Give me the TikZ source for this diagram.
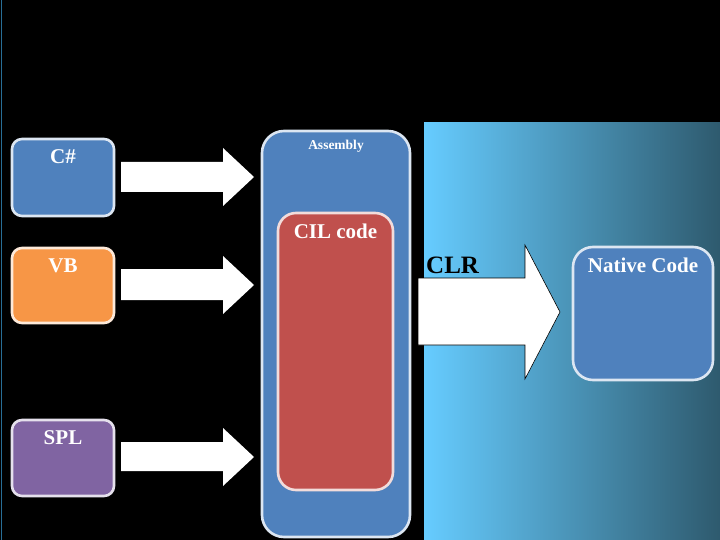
\documentclass[tikz,border=0pt]{standalone}
\usepackage{fontspec}
\setmainfont{Liberation Serif}
\begin{document}
\begin{tikzpicture}[x=1pt,y=-1pt,
  box/.style={draw=#1, line width=2.6pt, rounded corners=10pt, inner sep=0pt},
  lbl/.style={text=white, font=\bfseries\fontsize{21}{21}\selectfont, anchor=base, inner sep=0pt},
  blockarrow/.style={fill=white}]
\definecolor{bluefill}{RGB}{79,129,189}
\definecolor{blueedge}{RGB}{220,230,242}
\definecolor{orangefill}{RGB}{247,150,70}
\definecolor{orangeedge}{RGB}{253,233,217}
\definecolor{purplefill}{RGB}{128,100,162}
\definecolor{purpleedge}{RGB}{229,224,236}
\definecolor{redfill}{RGB}{192,80,77}
\definecolor{rededge}{RGB}{242,220,219}
\definecolor{gradleft}{RGB}{102,204,255}
\definecolor{gradright}{RGB}{46,90,110}
\definecolor{edgeline}{RGB}{40,110,150}
\fill[black] (0,0) rectangle (720,540);
\useasboundingbox (0,0) rectangle (720,540);
\draw[edgeline, line width=1.2pt] (1.5,0) -- (1.5,540);
% gradient panel
\shade[left color=gradleft, right color=gradright] (424,123) rectangle (720,540);
% source boxes
\node[box=blueedge, fill=bluefill, minimum width=102pt, minimum height=77pt] (cs) at (63,177.5) {};
\node[lbl] (cst) at (63,164) {C\#};
\node[box=orangeedge, fill=orangefill, minimum width=102pt, minimum height=75pt] (vb) at (63,285.5) {};
\node[lbl] (vbt) at (63,272) {VB};
\node[box=purpleedge, fill=purplefill, minimum width=102pt, minimum height=76pt] (spl) at (63,458) {};
\node[lbl] (splt) at (63,444) {SPL};
% assembly
\node[box=blueedge, fill=bluefill, rounded corners=22pt, minimum width=148pt, minimum height=406pt] (asm) at (336,334) {};
\node[text=white, font=\bfseries\fontsize{13.5}{13.5}\selectfont, anchor=base, inner sep=0pt] (asmt) at (336,150) {Assembly};
\node[box=rededge, fill=redfill, rounded corners=18pt, minimum width=115pt, minimum height=277pt] (cil) at (335.5,351.5) {};
\node[lbl] (cilt) at (335.5,238) {CIL code};
% native
\node[box=blueedge, fill=bluefill, rounded corners=20pt, minimum width=140pt, minimum height=133pt] (nat) at (643,313.5) {};
\node[lbl] (natt) at (643,272) {Native Code};
% compiler arrows
\fill[blockarrow] (121,162)--(223,162)--(223,148)--(254,177)--(223,206)--(223,192)--(121,192)--cycle;
\fill[blockarrow] (121,269)--(223,269)--(223,256)--(254,285)--(223,314)--(223,300)--(121,300)--cycle;
\fill[blockarrow] (121,442)--(223,442)--(223,428)--(254,457)--(223,486)--(223,471)--(121,471)--cycle;
% CLR arrow
\draw[fill=white, draw=black, line width=0.6pt] (418,278)--(525,278)--(525,245)--(560,312)--(525,379)--(525,345)--(418,345)--cycle;
\node[font=\bfseries\fontsize{25}{25}\selectfont, anchor=base west, inner sep=0pt, text=black] (clr) at (426,273) {CLR};
\end{tikzpicture}
\end{document}
